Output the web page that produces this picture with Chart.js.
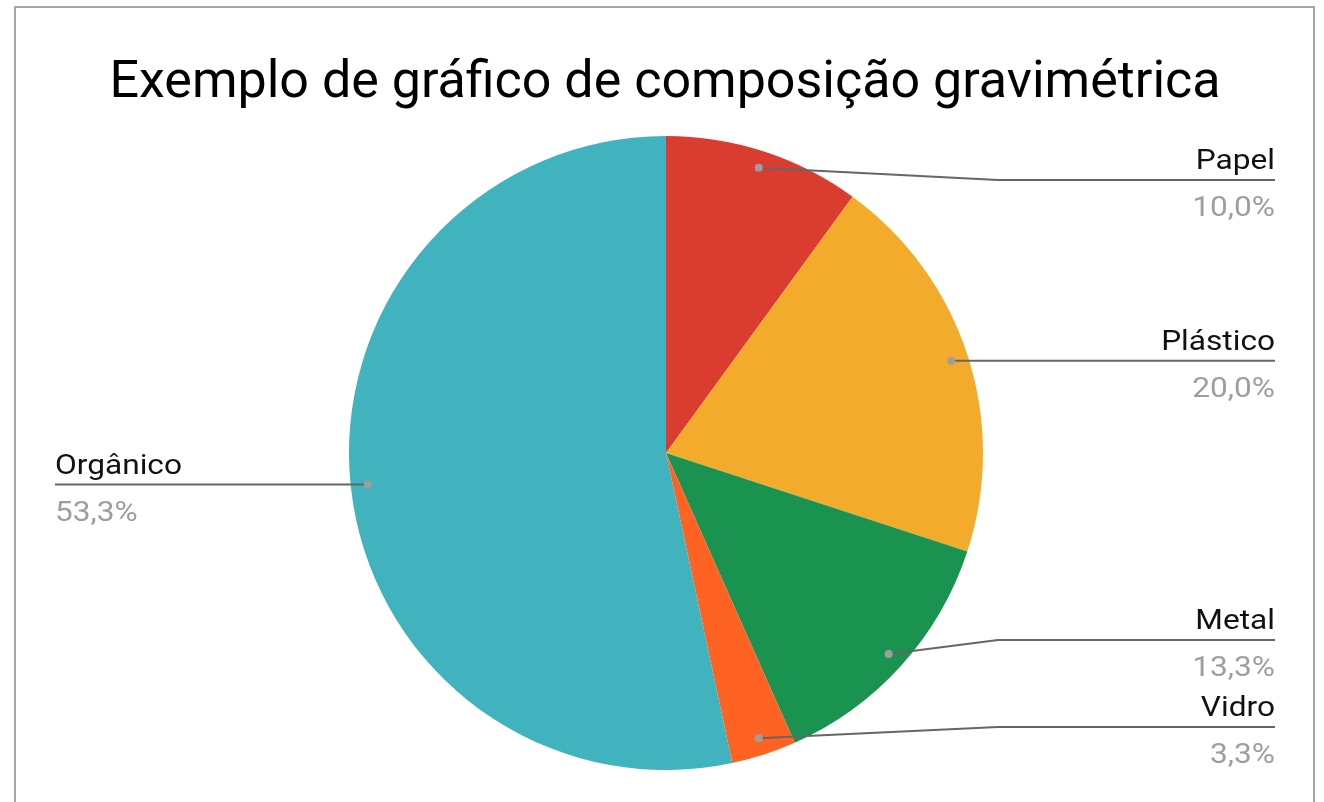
<!DOCTYPE html>
<html>
<head>
<meta charset="utf-8">
<script src="https://cdn.jsdelivr.net/npm/chart.js@4"></script>
<style>
  html, body { margin: 0; padding: 0; background: #fff; overflow: hidden; }
  #frame { position: absolute; left: 14px; top: 6px; width: 1297px; height: 900px; border: 2px solid #a6a6a6; pointer-events: none; }
  canvas { position: absolute; left: 0; top: 0; }
</style>
</head>
<body>
<canvas id="pieChart" width="1324" height="802"></canvas>
<div id="frame"></div>
<script>
const titleText = 'Exemplo de gráfico de composição gravimétrica';
const categories = ['Papel', 'Plástico', 'Metal', 'Vidro', 'Orgânico'];
const values = [10.0, 20.0, 13.3, 3.3, 53.3];
const sliceColors = ['#DB3C30', '#F2AB2A', '#1A9350', '#FF6324', '#40B3BE'];

const fmt = v => v.toFixed(1).replace('.', ',') + '%';

// text a bit wider than plain Roboto, like the original
function wideText(ctx, text, x, y) {
    ctx.save();
    ctx.translate(x, y);
    ctx.scale(1.13, 1);
    ctx.fillText(text, 0, 0);
    ctx.restore();
}

// Draws title and Google-style leader-line labels
const labelPlugin = {
    id: 'leaderLabels',
    afterDraw(chart) {
        const ctx = chart.ctx;
        const meta = chart.getDatasetMeta(0);

        ctx.save();
        ctx.fillStyle = '#000';
        ctx.font = '52px Roboto';
        ctx.textAlign = 'center';
        ctx.textBaseline = 'alphabetic';
        ctx.fillText(titleText, 665, 97);

        const right = [], left = [];
        meta.data.forEach((arc, i) => {
            const mid = (arc.startAngle + arc.endAngle) / 2;
            const r = arc.outerRadius * 0.946;
            const item = {
                i: i,
                dx: arc.x + Math.cos(mid) * r,
                dy: arc.y + Math.sin(mid) * r,
                cx: arc.x,
                R: arc.outerRadius
            };
            item.ly = item.dy;
            (Math.cos(mid) >= 0 ? right : left).push(item);
        });

        // keep label rows inside and apart
        const fix = list => {
            list.sort((a, b) => a.dy - b.dy);
            list.forEach(it => { it.ly = Math.min(727, Math.max(180, it.ly)); });
            for (let k = list.length - 2; k >= 0; k--) {
                if (list[k + 1].ly - list[k].ly < 87) list[k].ly = list[k + 1].ly - 87;
            }
        };
        fix(right);
        fix(left);

        const drawSide = (list, isRight) => {
            list.forEach(it => {
                const endX = isRight ? 1275 : 55;
                const elbowX = isRight ? it.cx + it.R + 15 : it.cx - it.R - 15;
                ctx.strokeStyle = '#666';
                ctx.lineWidth = 2;
                ctx.beginPath();
                ctx.moveTo(it.dx, it.dy);
                ctx.lineTo(elbowX, it.ly);
                ctx.lineTo(endX, it.ly);
                ctx.stroke();

                ctx.fillStyle = '#9e9e9e';
                ctx.beginPath();
                ctx.arc(it.dx, it.dy, 4, 0, Math.PI * 2);
                ctx.fill();

                ctx.textAlign = isRight ? 'right' : 'left';
                ctx.font = '28px Roboto';
                ctx.fillStyle = '#111';
                wideText(ctx, categories[it.i], endX, it.ly - 11);
                ctx.fillStyle = '#9e9e9e';
                wideText(ctx, fmt(values[it.i]), endX, it.ly + 36);
            });
        };
        drawSide(right, true);
        drawSide(left, false);
        ctx.restore();
    }
};

new Chart(document.getElementById('pieChart').getContext('2d'), {
    type: 'pie',
    data: {
        labels: categories,
        datasets: [{
            data: values,
            backgroundColor: sliceColors,
            borderWidth: 0
        }]
    },
    options: {
        responsive: false,
        animation: false,
        layout: { padding: { top: 136, bottom: 32, left: 8, right: 0 } },
        plugins: {
            legend: { display: false },
            tooltip: { enabled: false },
            title: { display: false }
        }
    },
    plugins: [labelPlugin]
});
</script>
</body>
</html>
